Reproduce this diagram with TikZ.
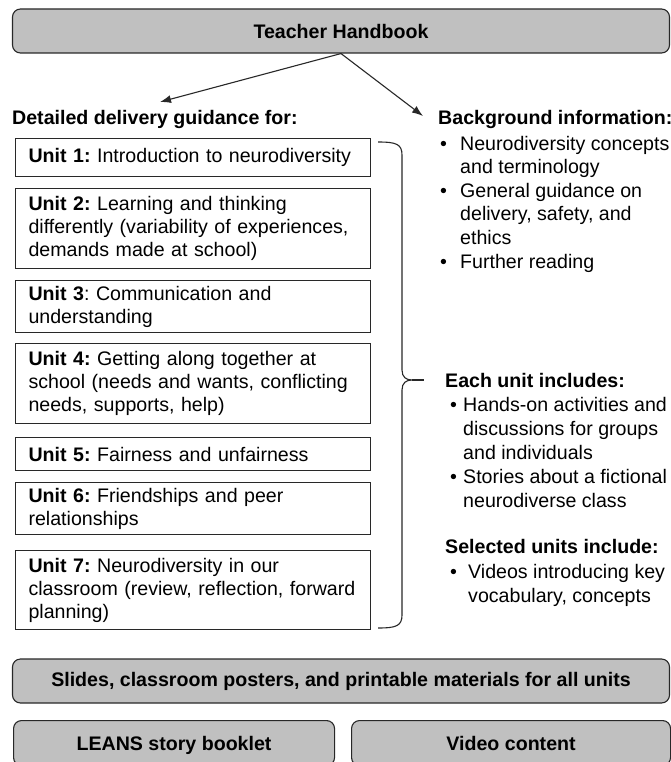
\documentclass[tikz,border=0pt]{standalone}
\usepackage{fontspec}
\setmainfont{Liberation Sans}
\usetikzlibrary{arrows.meta}
\definecolor{boxgray}{RGB}{192,192,192}
\definecolor{linecol}{RGB}{40,40,40}
\newcommand{\fs}{\frenchspacing\fontsize{19.6}{23}\selectfont}
\begin{document}
\frenchspacing
\begin{tikzpicture}[x=1pt,y=-1pt]
\tikzset{
  gbox/.style={draw=linecol, line width=1.1pt, fill=boxgray, rounded corners=8pt, inner sep=0pt, font=\fs\bfseries},
  ubox/.style={draw=linecol, line width=1.1pt, anchor=north west, minimum width=355pt, text width=329pt, inner xsep=13pt, inner ysep=0pt, align=left, font=\fs},
  txt/.style={anchor=base west, inner sep=0pt, font=\fs},
  head/.style={anchor=base west, inner sep=0pt, font=\fs\bfseries},
  arr/.style={-{Latex[length=11pt,width=8pt]}, line width=1.1pt, draw=linecol},
}
\useasboundingbox (0,0) rectangle (671,762);
\clip (0,0) rectangle (671,762);
\fill[white] (0,0) rectangle (671,762);

% top box
\node[gbox, minimum width=657pt, minimum height=44pt] (th) at (341,31) {Teacher Handbook};

% headings
\node[head] (dd) at (12,125) {Detailed delivery guidance for:};
\node[head] (bg) at (438,125) {Background information:};

% arrows
\coordinate (ltip) at (160,102);
\coordinate (rtip) at (423,116);
\draw[arr] (th.south) -- (ltip);
\draw[arr] (th.south) -- (rtip);

% unit boxes
\node[ubox, minimum height=38pt] (u1) at (15,138) {\mbox{\textbf{Unit 1:} Introduction to neurodiversity}};
\node[ubox, minimum height=80pt] (u2) at (15,188) {\mbox{\textbf{Unit 2:} Learning and thinking}\\\mbox{differently (variability of experiences,}\\\mbox{demands made at school)}};
\node[ubox, minimum height=52pt] (u3) at (15,280) {\mbox{\textbf{Unit 3}: Communication and}\\\mbox{understanding}};
\node[ubox, minimum height=80pt] (u4) at (15,343) {\mbox{\textbf{Unit 4:} Getting along together at}\\\mbox{school (needs and wants, conflicting}\\\mbox{needs, supports, help)}};
\node[ubox, minimum height=33pt] (u5) at (15,437) {\mbox{\textbf{Unit 5:} Fairness and unfairness}};
\node[ubox, minimum height=52pt] (u6) at (15,482) {\mbox{\textbf{Unit 6:} Friendships and peer}\\\mbox{relationships}};
\node[ubox, minimum height=79pt] (u7) at (15,550) {\mbox{\textbf{Unit 7:} Neurodiversity in our}\\\mbox{classroom (review, reflection, forward}\\\mbox{planning)}};

% brace
\draw[line width=1.1pt, draw=linecol] (378,142) .. controls (396,142) and (402,144) .. (402,155) -- (402,370) .. controls (402,377) and (406,380) .. (412,380) .. controls (406,380) and (402,383) .. (402,390) -- (402,615) .. controls (402,626) and (396,628) .. (378,628);
\coordinate (btip) at (412,380);
\coordinate (bend) at (424,380);
\draw[line width=1.1pt, draw=linecol] (btip) -- (bend);

% background information
\node[txt] (bg1) at (440,150) {\makebox[20pt][l]{\textbullet}Neurodiversity concepts};
\node[txt] (bg2) at (460,173.6) {and terminology};
\node[txt] (bg3) at (440,197.2) {\makebox[20pt][l]{\textbullet}General guidance on};
\node[txt] (bg4) at (460,220.8) {delivery, safety, and};
\node[txt] (bg5) at (460,244.4) {ethics};
\node[txt] (bg6) at (440,268) {\makebox[20pt][l]{\textbullet}Further reading};

% each unit includes
\node[head] (eu) at (445,387) {Each unit includes:};
\node[txt] (eu1) at (450,411) {\makebox[13pt][l]{\textbullet}Hands-on activities and};
\node[txt] (eu2) at (463,435) {discussions for groups};
\node[txt] (eu3) at (463,459) {and individuals};
\node[txt] (eu4) at (450,483) {\makebox[13pt][l]{\textbullet}Stories about a fictional};
\node[txt] (eu5) at (463,507) {neurodiverse class};

% selected units include
\node[head] (su) at (445,553) {Selected units include:};
\node[txt] (su1) at (450,578) {\makebox[18pt][l]{\textbullet}Videos introducing key};
\node[txt] (su2) at (468,602) {vocabulary, concepts};

% bottom boxes
\node[gbox, minimum width=657pt, minimum height=44pt] (sl) at (341,681) {Slides, classroom posters, and printable materials for all units};
\node[gbox, minimum width=321pt, minimum height=45pt, anchor=north west] (lb) at (13,720) {};
\node[gbox, minimum width=319pt, minimum height=45pt, anchor=north west] (vc) at (351,720) {};
\node[head, anchor=base] (lbt) at (lb.center |- 0,750) {LEANS story booklet};
\node[head, anchor=base] (vct) at (vc.center |- 0,750) {Video content};
\end{tikzpicture}
\end{document}
